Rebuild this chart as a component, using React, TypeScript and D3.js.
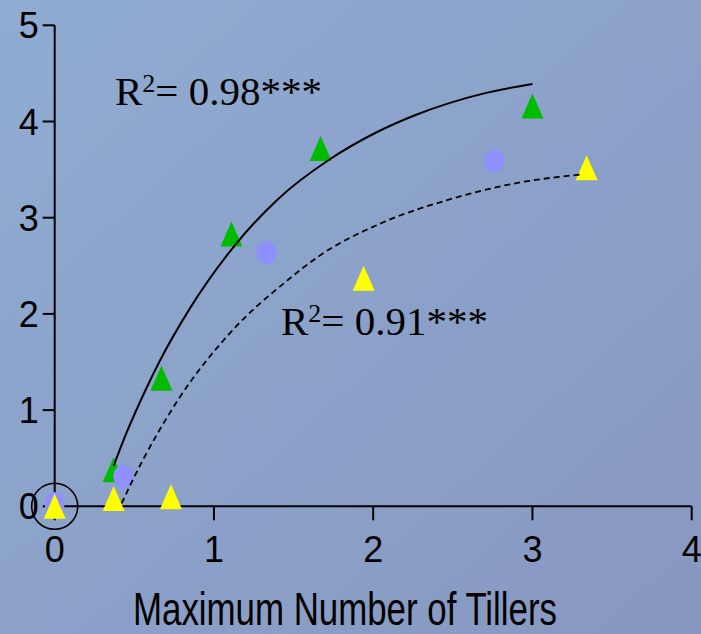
import React from "react";
import * as d3 from "d3";

// Tick values
const xTicks = [0, 1, 2, 3, 4];
const yTicks = [0, 1, 2, 3, 4, 5];

// Observed points (green triangles)
const greenX = [0.37, 0.67, 1.11, 1.67, 3.0];
const greenY = [0.38, 1.33, 2.83, 3.72, 4.16];

// Observed points (blue circles)
const blueX = [0, 0.43, 1.33, 2.76];
const blueY = [0.03, 0.31, 2.64, 3.59];

// Observed points (yellow triangles)
const yellowX = [0, 0.37, 0.73, 1.94, 3.34];
const yellowY = [0, 0.08, 0.1, 2.37, 3.52];

// Fitted curve, R² = 0.98 (solid)
const fitSolidX = [0.37, 0.45, 0.54, 0.65, 0.85, 1.13, 1.4, 1.73, 2.0, 2.27, 2.69, 3.0];
const fitSolidY = [0.42, 0.76, 1.1, 1.48, 2.06, 2.71, 3.19, 3.61, 3.87, 4.07, 4.29, 4.39];

// Fitted curve, R² = 0.91 (dashed)
const fitDashX = [0.42, 0.55, 0.64, 0.78, 1.1, 1.47, 1.65, 2.06, 2.48, 2.9, 3.31];
const fitDashY = [0.03, 0.47, 0.74, 1.12, 1.8, 2.36, 2.59, 2.95, 3.19, 3.36, 3.45];

const xTitle = "Maximum Number of Tillers";

const W = 701;
const H = 634;

export default function App() {
  const x = d3.scaleLinear().domain([0, 4]).range([54.7, 691.7]);
  const y = d3.scaleLinear().domain([0, 5]).range([506.3, 25.3]);

  const line = d3
    .line<[number, number]>()
    .x((d) => x(d[0]))
    .y((d) => y(d[1]))
    .curve(d3.curveMonotoneX);

  const solidPath = line(fitSolidX.map((v, i) => [v, fitSolidY[i]]) as [number, number][]) || "";
  const dashPath = line(fitDashX.map((v, i) => [v, fitDashY[i]]) as [number, number][]) || "";

  const tri = (cx: number, cy: number) =>
    `M${cx},${cy - 12.5}L${cx + 11},${cy + 12.5}L${cx - 11},${cy + 12.5}Z`;

  const sans = "'Liberation Sans', Arial, sans-serif";
  const serif = "'Liberation Serif', 'Times New Roman', serif";

  return (
    <svg
      width={W}
      height={H}
      style={{ position: "absolute", left: 0, top: 0, display: "block" }}
    >
      <defs>
        <linearGradient id="bg" x1="0" y1="0" x2="1" y2="1">
          <stop offset="0%" stopColor="#90acd2" />
          <stop offset="100%" stopColor="#8797c0" />
        </linearGradient>
      </defs>
      <rect x={0} y={0} width={W} height={H} fill="url(#bg)" />

      {/* axes */}
      <g stroke="#000" strokeWidth={2} fill="none">
        <line x1={x(0)} x2={x(0)} y1={y(5)} y2={y(0)} />
        <line x1={x(0)} x2={x(4)} y1={y(0)} y2={y(0)} />
        {yTicks.map((t) => (
          <line key={"yt" + t} x1={x(0) - 12} x2={x(0)} y1={y(t)} y2={y(t)} />
        ))}
        {xTicks.map((t) => (
          <line key={"xt" + t} x1={x(t)} x2={x(t)} y1={y(0)} y2={y(0) + 14} />
        ))}
      </g>
      <g fontFamily={sans} fontSize={36} fill="#000">
        {yTicks.map((t) => (
          <text key={"yl" + t} x={x(0) - 16} y={y(t) + 13} textAnchor="end">
            {t}
          </text>
        ))}
        {xTicks.map((t) => (
          <text key={"xl" + t} x={x(t)} y={562} textAnchor="middle">
            {t}
          </text>
        ))}
      </g>
      <text
        x={345}
        y={625}
        fontFamily={sans}
        fontSize={46}
        textAnchor="middle"
        textLength={424}
        lengthAdjust="spacingAndGlyphs"
      >
        {xTitle}
      </text>

      {/* markers */}
      {greenX.map((v, i) => (
        <path key={"g" + i} d={tri(x(v), y(greenY[i]))} fill="#00bb00" />
      ))}
      {blueX.map((v, i) => (
        <ellipse key={"b" + i} cx={x(v)} cy={y(blueY[i])} rx={10} ry={11.5} fill="#8f8fff" />
      ))}
      {yellowX.map((v, i) => (
        <path key={"y" + i} d={tri(x(v), y(yellowY[i]))} fill="#ffff00" />
      ))}

      {/* fitted curves */}
      <path d={solidPath} fill="none" stroke="#000" strokeWidth={2} />
      <path d={dashPath} fill="none" stroke="#000" strokeWidth={1.8} strokeDasharray="6,4" />

      {/* highlight ring at the origin */}
      <circle cx={x(0)} cy={y(0)} r={23} fill="none" stroke="#000" strokeWidth={1.6} />

      {/* goodness-of-fit labels */}
      <text x={115} y={105} fontFamily={serif} fontSize={41} fill="#000">
        R<tspan fontSize={26} dy={-13}>2</tspan>
        <tspan dy={13}>= 0.98***</tspan>
      </text>
      <text x={281} y={335} fontFamily={serif} fontSize={41} fill="#000">
        R<tspan fontSize={26} dy={-13}>2</tspan>
        <tspan dy={13}>= 0.91***</tspan>
      </text>
    </svg>
  );
}
